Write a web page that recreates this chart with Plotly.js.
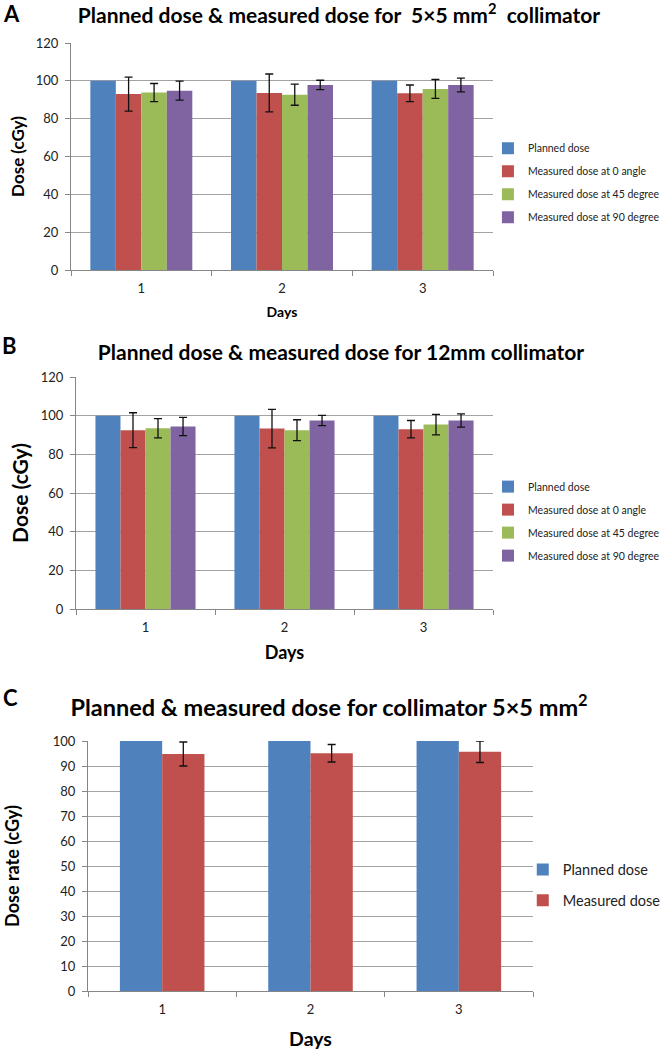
<!DOCTYPE html>
<html>
<head>
<meta charset="utf-8">
<script src="https://cdn.plot.ly/plotly-3.0.1.min.js"></script>
<style>
html,body{margin:0;padding:0;background:#fff;}
.p{width:666px;}
</style>
</head>
<body>
<div id="chartA" class="p" style="height:330px"></div>
<div id="chartB" class="p" style="height:340px"></div>
<div id="chartC" class="p" style="height:380px"></div>
<script>
// ---------- Data ----------
const days = ['1', '2', '3'];
const seriesNames4 = ['Planned dose', 'Measured dose at 0 angle', 'Measured dose at 45 degree', 'Measured dose at 90 degree'];
const seriesNames2 = ['Planned dose', 'Measured dose'];

// Panel A: 5x5 mm2 collimator
const aPlanned = [100, 100, 100];
const aAngle0 = [93.0, 93.6, 93.4];
const aAngle0Err = [9.0, 10.0, 4.4];
const aAngle45 = [93.8, 92.7, 95.7];
const aAngle45Err = [4.8, 5.6, 5.0];
const aAngle90 = [94.8, 97.8, 97.8];
const aAngle90Err = [5.0, 2.5, 3.6];

// Panel B: 12 mm collimator
const bPlanned = [100, 100, 100];
const bAngle0 = [92.5, 93.3, 93.0];
const bAngle0Err = [9.0, 10.0, 4.5];
const bAngle45 = [93.5, 92.5, 95.4];
const bAngle45Err = [5.0, 5.4, 5.3];
const bAngle90 = [94.4, 97.5, 97.5];
const bAngle90Err = [4.7, 2.7, 3.4];

// Panel C: collimator 5x5 mm2
const cPlanned = [100, 100, 100];
const cMeasured = [94.8, 95.1, 95.7];
const cMeasuredErr = [4.8, 3.5, 4.3];

// ---------- Style ----------
const FONT = 'Lato, "Open Sans", "Liberation Sans", sans-serif';
const colors = ['#4F81BD', '#C0504D', '#9BBB59', '#8064A2'];
const gridC = '#a3a3a3';
const axisC = '#868686';

function errObj(arr) {
  return {type: 'data', array: arr, visible: true, color: '#111', thickness: 1.3, width: 4};
}
function barTrace(name, y, err, color, grp) {
  const t = {type: 'bar', name: name, x: days, y: y, marker: {color: color, line: {width: 0}},
             legendgroup: grp, cliponaxis: false};
  if (err) t.error_y = errObj(err);
  return t;
}
function baseLayout(o) {
  return {
    width: 666, height: o.h,
    margin: {l: o.l, r: o.r, t: o.t, b: o.b, autoexpand: false},
    paper_bgcolor: '#fff', plot_bgcolor: '#fff',
    font: {family: FONT, color: '#222'},
    barmode: 'group', bargap: o.bargap, bargroupgap: 0,
    showlegend: true,
    legend: {x: o.lx, y: o.ly, xanchor: 'left', yanchor: 'top', font: {size: o.lfs, family: FONT, color: '#222'},
             tracegroupgap: o.lgap, bgcolor: 'rgba(0,0,0,0)', itemwidth: 30},
    title: {text: o.title, x: o.tx, xanchor: 'center', y: o.ty, yanchor: 'middle', yref: 'container',
            font: {size: o.tfs, family: FONT, color: '#000', weight: 'bold'}},
    xaxis: {type: 'category', showline: true, linecolor: axisC, linewidth: 1, ticks: 'outside',
            tickson: 'boundaries', ticklen: 5, tickcolor: axisC, showgrid: false, ticklabelstandoff: 6,
            tickfont: {size: o.xfs, color: '#222'},
            title: {text: '<b>Days</b>', font: {size: o.xtfs, color: '#000'}, standoff: o.xst}},
    yaxis: {range: o.yr, dtick: o.dt, showline: true, linecolor: axisC, linewidth: 1, ticks: 'outside',
            ticklen: 5, tickcolor: axisC, showgrid: true, gridcolor: gridC, gridwidth: 1, zeroline: false,
            ticklabelstandoff: 4,
            tickfont: {size: o.yfs, color: '#222'},
            title: {text: '<b>' + o.ytitle + '</b>', font: {size: o.ytfs, color: '#000'}, standoff: o.yst}},
    annotations: [{text: '<b>' + o.letter + '</b>', xref: 'paper', yref: 'paper', x: o.ax, y: o.ay,
                   xanchor: 'center', yanchor: 'middle', showarrow: false, font: {size: o.afs, color: '#000'}}]
  };
}
const cfg = {displayModeBar: false, staticPlot: true};

// Panel A
Plotly.newPlot('chartA', [
  barTrace(seriesNames4[0], aPlanned, null, colors[0], 'g0'),
  barTrace(seriesNames4[1], aAngle0, aAngle0Err, colors[1], 'g1'),
  barTrace(seriesNames4[2], aAngle45, aAngle45Err, colors[2], 'g2'),
  barTrace(seriesNames4[3], aAngle90, aAngle90Err, colors[3], 'g3')
], baseLayout({h: 330, l: 71, r: 173, t: 43, b: 60, bargap: 0.275,
  lx: 0.988, ly: 0.60, lfs: 10.5, lgap: 4,
  title: 'Planned dose & measured dose for  5×5 mm<sup>2</sup>  collimator', tx: 0.509, ty: 0.952, tfs: 21,
  xfs: 13, xtfs: 14, xst: 12, yr: [0, 120], dt: 20, yfs: 13, ytitle: 'Dose (cGy)', ytfs: 17, yst: 6,
  letter: 'A', ax: -0.14, ay: 1.132, afs: 22}), cfg);

// Panel B
Plotly.newPlot('chartB', [
  barTrace(seriesNames4[0], bPlanned, null, colors[0], 'g0'),
  barTrace(seriesNames4[1], bAngle0, bAngle0Err, colors[1], 'g1'),
  barTrace(seriesNames4[2], bAngle45, bAngle45Err, colors[2], 'g2'),
  barTrace(seriesNames4[3], bAngle90, bAngle90Err, colors[3], 'g3')
], baseLayout({h: 340, l: 76, r: 173, t: 47, b: 61, bargap: 0.28,
  lx: 0.988, ly: 0.59, lfs: 10.5, lgap: 4,
  title: 'Planned dose & measured dose for 12mm collimator', tx: 0.512, ty: 0.933, tfs: 21,
  xfs: 13, xtfs: 18, xst: 12, yr: [0, 120], dt: 20, yfs: 13, ytitle: 'Dose (cGy)', ytfs: 21, yst: 6,
  letter: 'B', ax: -0.16, ay: 1.136, afs: 22}), cfg);

// Panel C
Plotly.newPlot('chartC', [
  barTrace(seriesNames2[0], cPlanned, null, colors[0], 'g0'),
  barTrace(seriesNames2[1], cMeasured, cMeasuredErr, colors[1], 'g1')
], baseLayout({h: 380, l: 88, r: 133, t: 71, b: 59, bargap: 0.43,
  lx: 0.977, ly: 0.55, lfs: 14.5, lgap: 9,
  title: 'Planned & measured dose for collimator 5×5 mm<sup>2</sup>', tx: 0.494, ty: 0.9, tfs: 23.5,
  xfs: 13, xtfs: 19.5, xst: 16, yr: [0, 100], dt: 10, yfs: 13, ytitle: 'Dose rate (cGy)', ytfs: 18, yst: 28,
  letter: 'C', ax: -0.174, ay: 1.176, afs: 22}), cfg);
</script>
</body>
</html>
